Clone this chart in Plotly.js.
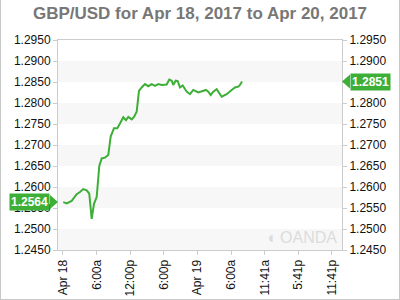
<!DOCTYPE html>
<html>
<head>
<meta charset="utf-8">
<script src="https://cdn.plot.ly/plotly-3.0.1.min.js"></script>
<style>
  html, body { margin: 0; padding: 0; background: #fff; }
  #wrap { position: relative; width: 400px; height: 300px; }
  #chart { width: 400px; height: 300px; }
  #frame { position: absolute; left: 0; top: 0; width: 400px; height: 300px; box-sizing: border-box;
           border-left: 1px solid #c8c8c8; border-right: 1px solid #c8c8c8; border-bottom: 1px solid #c8c8c8; pointer-events: none; }
</style>
</head>
<body>
<div id="wrap"><div id="chart"></div><div id="frame"></div></div>
<script>
// Hours since Apr 18, 2017 00:00
const hours = [0.05, 0.66, 1.55, 2.44, 3.03, 3.62, 4.23, 4.69, 5.12, 5.53, 6.01, 6.48, 6.91, 7.49, 8.08, 8.51,
  9.10, 9.69, 10.17, 10.76, 11.24, 11.65, 12.26, 12.67, 13.15, 13.56, 14.04, 14.63, 15.22, 15.83, 16.42,
  17.01, 17.61, 18.50, 18.97, 19.40, 19.68, 20.11, 20.47, 20.88, 21.36, 22.07, 22.66, 23.25, 24.14,
  24.93, 25.52, 25.93, 26.36, 26.82, 27.43, 28.32, 29.21, 30.10, 30.69, 31.28, 31.58, 31.95];
const prices = [1.2564, 1.2561, 1.2567, 1.2583, 1.2588, 1.2595, 1.2592, 1.2584, 1.2524, 1.2560, 1.2576, 1.2650,
  1.2668, 1.2670, 1.2676, 1.2720, 1.2740, 1.2740, 1.2751, 1.2766, 1.2759, 1.2767, 1.2761, 1.2767, 1.2779,
  1.2829, 1.2837, 1.2845, 1.2840, 1.2845, 1.2841, 1.2845, 1.2843, 1.2844, 1.2856, 1.2853, 1.2843, 1.2853,
  1.2852, 1.2837, 1.2842, 1.2827, 1.2821, 1.2831, 1.2825, 1.2828, 1.2831, 1.2827, 1.2819, 1.2827, 1.2833,
  1.2815, 1.2821, 1.2831, 1.2837, 1.2839, 1.2843, 1.2851];
const tickHours = [0, 6, 12, 18, 24, 30, 36, 42, 48];
const tickLabels = ["Apr 18", "6:00a", "12:00p", "6:00p", "Apr 19", "6:00a", "11:41a", "5:41p", "11:41p"];
const yTicks = [1.2450, 1.2500, 1.2550, 1.2600, 1.2650, 1.2700, 1.2750, 1.2800, 1.2850, 1.2900, 1.2950];
const yTickText = ["1.2450", "1.2500", "1.2550", "1.2600", "1.2650", "1.2700", "1.2750", "1.2800", "1.2850", "1.2900", "1.2950"];
const bandStarts = [1.2450, 1.2550, 1.2650, 1.2750, 1.2850];

const green = '#3dae36';
const firstVal = prices[0];
const lastVal = prices[prices.length - 1];
// right-axis label hidden beneath the last-value tag
const yTickTextRight = yTickText.map((t, i) => Math.abs(yTicks[i] - lastVal) < 0.0015 ? '' : t);

const shapes = bandStarts.map(b => ({
  type: 'rect', xref: 'paper', yref: 'y', x0: 0, x1: 1, y0: b, y1: b + 0.005,
  fillcolor: '#f7f7f7', line: { width: 0 }, layer: 'below'
}));
shapes.push({
  type: 'path', xref: 'paper', yref: 'y', xsizemode: 'pixel', ysizemode: 'pixel',
  xanchor: 1, yanchor: lastVal, path: 'M 0 0 L 8 7 L 8 -7 Z',
  fillcolor: green, line: { width: 0 }
});
shapes.push({
  type: 'path', xref: 'paper', yref: 'y', xsizemode: 'pixel', ysizemode: 'pixel',
  xanchor: 0, yanchor: firstVal, path: 'M 0 0 L -8 7 L -8 -7 Z',
  fillcolor: green, line: { width: 0 }
});

const tickFont = { family: 'Arial, Liberation Sans, sans-serif', size: 12, color: '#111' };

const data = [
  { x: hours, y: prices, type: 'scatter', mode: 'lines', line: { color: green, width: 2 }, hoverinfo: 'skip' },
  { x: [hours[0]], y: [firstVal], yaxis: 'y2', type: 'scatter', mode: 'markers', marker: { opacity: 0 }, hoverinfo: 'skip' }
];

const layout = {
  width: 400, height: 300,
  margin: { l: 58, r: 58, t: 40, b: 50 },
  paper_bgcolor: '#fff', plot_bgcolor: '#fff',
  showlegend: false,
  title: { text: 'GBP/USD for Apr 18, 2017 to Apr 20, 2017', x: 0.5, xanchor: 'center', y: 0.955, yanchor: 'middle',
    font: { family: 'Arial, Liberation Sans, sans-serif', size: 17, color: '#777', weight: 'bold' } },
  xaxis: {
    range: [-0.89, 49.79], tickmode: 'array', tickvals: tickHours, ticktext: tickLabels,
    tickangle: -90, tickfont: tickFont, ticks: 'outside', ticklen: 4, tickcolor: '#ccc',
    showgrid: false, zeroline: false, showline: true, linecolor: '#ccc', linewidth: 1, mirror: true, fixedrange: true
  },
  yaxis: {
    range: [1.245, 1.295], tickmode: 'array', tickvals: yTicks, ticktext: yTickText, tickfont: tickFont,
    ticks: 'outside', ticklen: 4, tickcolor: '#ccc', showgrid: false, zeroline: false,
    showline: true, linecolor: '#ccc', linewidth: 1, fixedrange: true
  },
  yaxis2: {
    range: [1.245, 1.295], overlaying: 'y', side: 'right', tickmode: 'array', tickvals: yTicks, ticktext: yTickTextRight,
    tickfont: tickFont, ticks: 'outside', ticklen: 4, tickcolor: '#ccc', showgrid: false, zeroline: false,
    showline: true, linecolor: '#ccc', linewidth: 1, fixedrange: true
  },
  shapes: shapes,
  annotations: [
    { xref: 'paper', yref: 'y', x: 1, y: lastVal, xanchor: 'left', yanchor: 'middle', xshift: 8,
      text: '<b>' + lastVal.toFixed(4) + '</b>', showarrow: false, bgcolor: green, borderpad: 1,
      font: { family: 'Arial, Liberation Sans, sans-serif', size: 12, color: '#fff' } },
    { xref: 'paper', yref: 'y', x: 0, y: firstVal, xanchor: 'right', yanchor: 'middle', xshift: -8,
      text: '<b>' + firstVal.toFixed(4) + '</b>', showarrow: false, bgcolor: green, borderpad: 1,
      font: { family: 'Arial, Liberation Sans, sans-serif', size: 12, color: '#fff' } },
    { xref: 'paper', yref: 'paper', x: 0.99, y: 0.01, xanchor: 'right', yanchor: 'bottom',
      text: '◖ OANDA', showarrow: false,
      font: { family: 'Arial, Liberation Sans, sans-serif', size: 16, color: '#dcdcdc' } }
  ]
};

Plotly.newPlot('chart', data, layout, { staticPlot: true, displayModeBar: false });
</script>
</body>
</html>
